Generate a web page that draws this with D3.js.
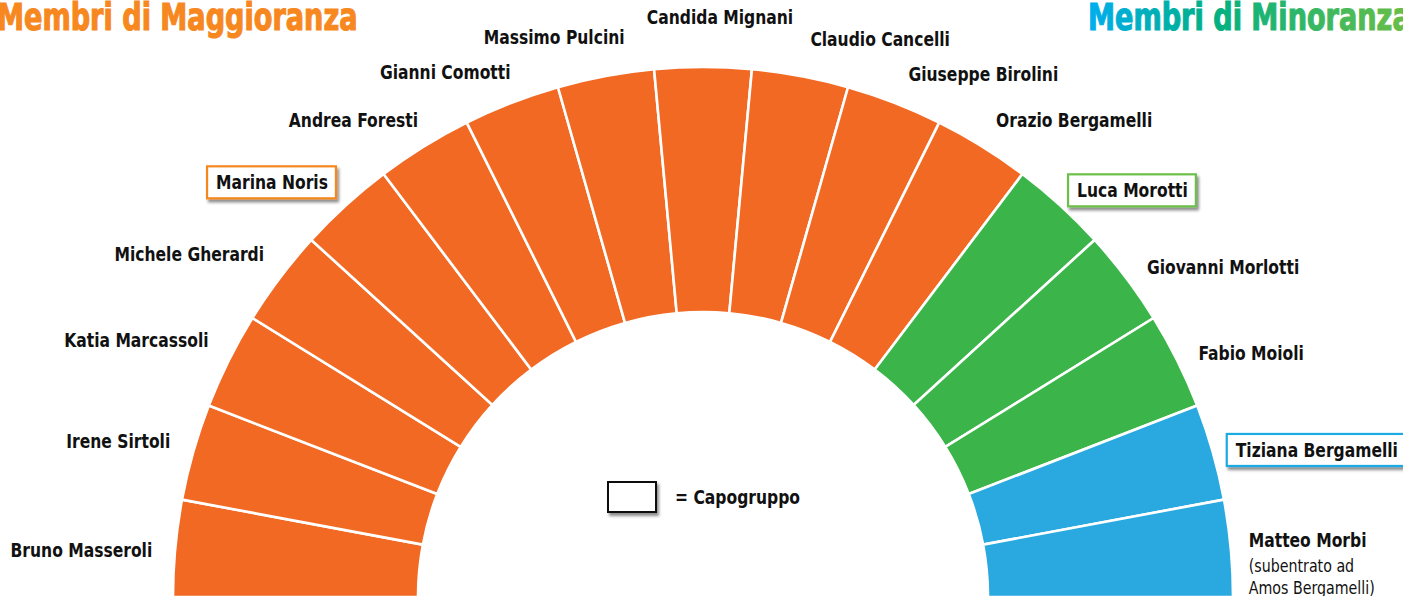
<!DOCTYPE html>
<html>
<head>
<meta charset="utf-8">
<script src="https://cdn.jsdelivr.net/npm/d3@7"></script>
<style>
  html, body { margin: 0; padding: 0; background: #fff; overflow: hidden; }
  svg { display: block; }
  .lbl { font-family: "Liberation Sans Narrow", "DejaVu Sans Condensed", sans-serif; font-weight: bold; font-size: 19px; fill: #111; }
  .note { font-family: "Liberation Sans Narrow", "DejaVu Sans Condensed", sans-serif; font-size: 17px; fill: #111; }
  .title { font-family: "Liberation Sans Narrow", "DejaVu Sans Condensed", sans-serif; font-weight: bold; font-size: 37px; stroke-width: 1.1; }
</style>
</head>
<body>
<div id="chart"></div>
<script>
// council seats, left to right
const members = [
  "Bruno Masseroli", "Irene Sirtoli", "Katia Marcassoli", "Michele Gherardi",
  "Marina Noris", "Andrea Foresti", "Gianni Comotti", "Massimo Pulcini",
  "Candida Mignani", "Claudio Cancelli", "Giuseppe Birolini", "Orazio Bergamelli",
  "Luca Morotti", "Giovanni Morlotti", "Fabio Moioli",
  "Tiziana Bergamelli", "Matteo Morbi"
];
const groups = [
  "magg", "magg", "magg", "magg", "magg", "magg", "magg", "magg", "magg", "magg", "magg", "magg",
  "minA", "minA", "minA",
  "minB", "minB"
];
const capogruppo = ["Marina Noris", "Luca Morotti", "Tiziana Bergamelli"];
const notes = { "Matteo Morbi": ["(subentrato ad", "Amos Bergamelli)"] };
const titles = ["Membri di Maggioranza", "Membri di Minoranza"];
const legendText = "= Capogruppo";

const width = 1403, height = 596;
const cx = 703, cy = 597, R = 530, r0 = 285;
const sxLabel = 0.91, sxTitle = 0.815; // squeeze to mimic the condensed face

// label nudges from the outer edge of each seat [dx, dy, anchor]
const labelNudge = [
  [-23, 2, "end"], [-23, -11, "end"], [-20, -20, "end"], [-16, -23, "end"],
  [-18, -23, "end"], [-6, -26, "end"], [-1, -30, "end"], [19, -39, "end"],
  [17, -50, "middle"],
  [10, -37, "start"], [14, -28, "start"], [14, -26, "start"],
  [17, -15, "start"], [21, -10, "start"], [21, -7, "start"],
  [23, -2, "start"], [18, -8, "start"]
];

const fillColor = d3.scaleOrdinal()
  .domain(["magg", "minA", "minB"])
  .range(["#f26924", "#3bb54a", "#29a9e0"]);
const boxColor = d3.scaleOrdinal()
  .domain(["magg", "minA", "minB"])
  .range(["#f6871f", "#6dbf4b", "#1eaae2"]);

const seats = members.map((m, i) => ({ name: m, group: groups[i], seats: 1 }));

const svg = d3.select("#chart").append("svg")
  .attr("width", width)
  .attr("height", height);

const defs = svg.append("defs");
const shadow = defs.append("filter").attr("id", "shadow")
  .attr("x", "-20%").attr("y", "-40%").attr("width", "150%").attr("height", "200%");
shadow.append("feDropShadow")
  .attr("dx", 2).attr("dy", 3).attr("stdDeviation", 1.6)
  .attr("flood-color", "#000").attr("flood-opacity", 0.45);

const grad = defs.append("linearGradient").attr("id", "minGrad")
  .attr("x1", 0).attr("x2", 1).attr("y1", 0).attr("y2", 0);
grad.append("stop").attr("offset", 0).attr("stop-color", "#00aeef");
grad.append("stop").attr("offset", 0.38).attr("stop-color", "#00b084");
grad.append("stop").attr("offset", 1).attr("stop-color", "#6cbe45");

const pie = d3.pie()
  .value(d => d.seats)
  .sort(null)
  .startAngle(-Math.PI / 2)
  .endAngle(Math.PI / 2);

const arc = d3.arc().innerRadius(r0).outerRadius(R);
const arcs = pie(seats);

const g = svg.append("g").attr("transform", `translate(${cx},${cy})`);

g.selectAll("path.seat")
  .data(arcs)
  .enter().append("path")
  .attr("class", "seat")
  .attr("d", arc)
  .attr("fill", d => fillColor(d.data.group))
  .attr("stroke", "#fff")
  .attr("stroke-width", 2.6)
  .attr("stroke-linejoin", "miter");

// labels
const labels = g.selectAll("g.label")
  .data(arcs)
  .enter().append("g")
  .attr("class", "label")
  .attr("transform", (d, i) => {
    const a = (d.startAngle + d.endAngle) / 2;
    const x = R * Math.sin(a) + labelNudge[i][0];
    const y = -R * Math.cos(a) + labelNudge[i][1];
    return `translate(${x},${y})`;
  });

labels.each(function(d, i) {
  const sel = d3.select(this);
  const isCapo = capogruppo.includes(d.data.name);
  const boxLayer = sel.append("g");
  const t = sel.append("text")
    .attr("class", "lbl")
    .attr("text-anchor", labelNudge[i][2])
    .attr("dy", "0.35em")
    .attr("transform", `scale(${sxLabel},1)`)
    .text(d.data.name);
  if (isCapo) {
    const bb = t.node().getBBox();
    boxLayer.append("rect")
      .attr("x", bb.x * sxLabel - 9)
      .attr("y", -16)
      .attr("width", bb.width * sxLabel + 17)
      .attr("height", 32)
      .attr("fill", "#fff")
      .attr("stroke", boxColor(d.data.group))
      .attr("stroke-width", 2.2)
      .attr("filter", "url(#shadow)");
  }
  const extra = notes[d.data.name];
  if (extra) {
    extra.forEach((line, k) => {
      sel.append("text")
        .attr("class", "note")
        .attr("text-anchor", labelNudge[i][2])
        .attr("transform", `translate(0,${26 + k * 22}) scale(0.93,1)`)
        .attr("dy", "0.35em")
        .text(line);
    });
  }
});

// legend
const legend = g.append("g").attr("transform", "translate(-95,-115)");
legend.append("rect")
  .attr("width", 48).attr("height", 30)
  .attr("fill", "#fff")
  .attr("stroke", "#111")
  .attr("stroke-width", 2)
  .attr("filter", "url(#shadow)");
legend.append("text")
  .attr("class", "lbl")
  .attr("transform", `translate(67,15) scale(${sxLabel},1)`)
  .attr("dy", "0.35em")
  .text(legendText);

// titles
svg.append("text")
  .attr("class", "title")
  .attr("transform", `translate(-3,30) scale(${sxTitle},1)`)
  .attr("fill", "#f6881f")
  .attr("stroke", "#f6881f")
  .text(titles[0]);
svg.append("text")
  .attr("class", "title")
  .attr("transform", `translate(1088,30) scale(${sxTitle},1)`)
  .attr("fill", "url(#minGrad)")
  .attr("stroke", "url(#minGrad)")
  .text(titles[1]);
</script>
</body>
</html>
